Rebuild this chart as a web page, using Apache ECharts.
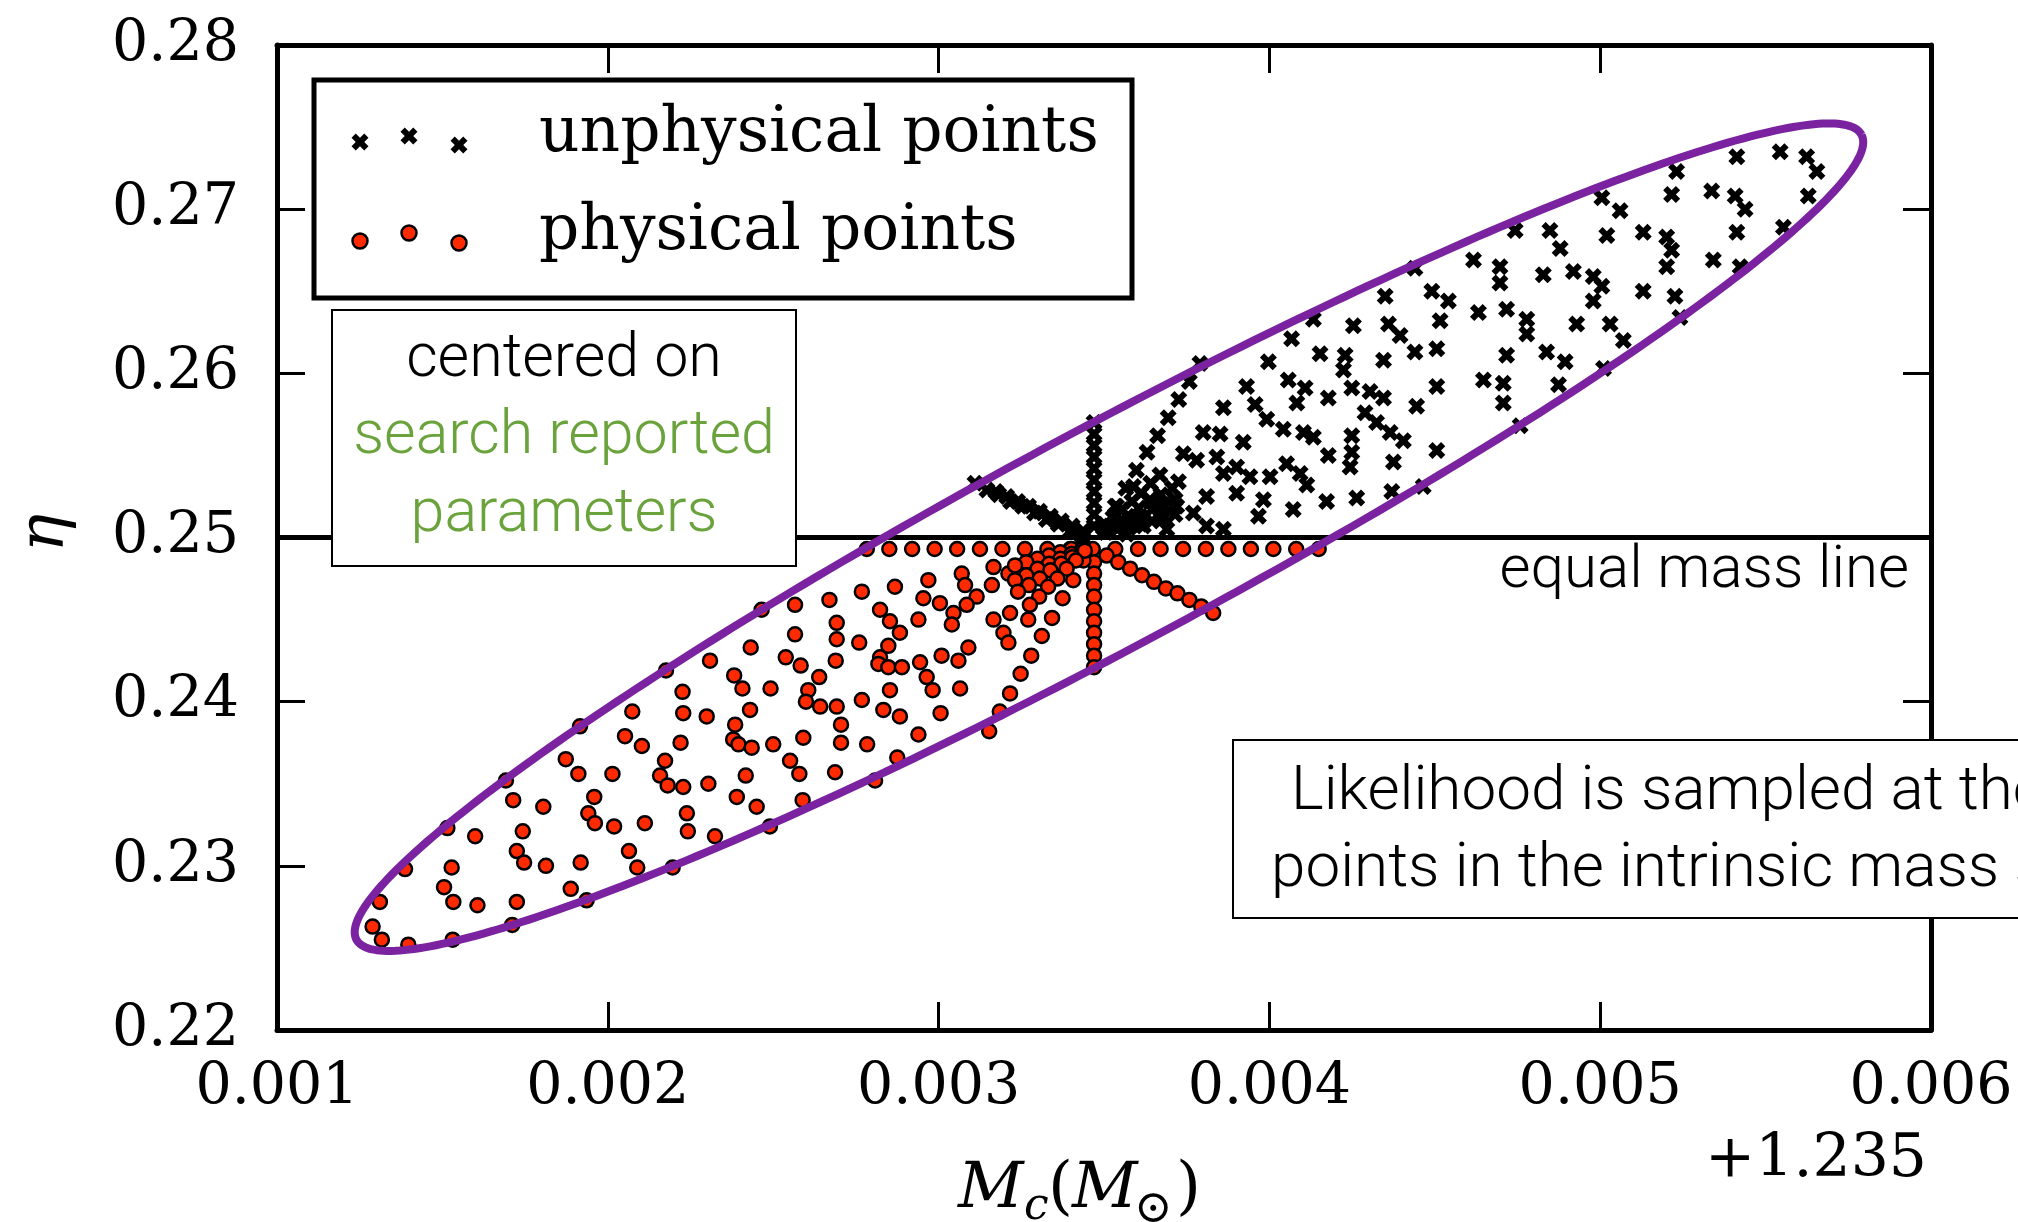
<!DOCTYPE html>
<html><head><meta charset="utf-8">
<script src="https://cdn.jsdelivr.net/npm/echarts@6/dist/echarts.min.js"></script>
<style>html,body{margin:0;padding:0;background:#fff}#c{width:2018px;height:1222px}</style>
</head><body><div id="c"></div><script>
// ---------------- DATA ----------------
const X_MIN = 0.001, X_MAX = 0.006, X_STEP = 0.001;   // Mc - 1.235
const Y_MIN = 0.22, Y_MAX = 0.28, Y_STEP = 0.01;      // eta
const X_OFFSET_LABEL = '+1.235';
const EQUAL_MASS_ETA = 0.25;

// physical points: scattered cloud
const physicalScatter = [
[0.002074,0.2394],[0.002228,0.2393],[0.002299,0.2391],[0.002385,0.2386],[0.002052,0.2379],[0.002103,0.2373],[0.002220,0.2375],[0.002379,0.2377],[0.002173,0.2364],[0.001873,0.2365],[0.001911,0.2356],[0.002014,0.2356],[0.002158,0.2355],[0.002181,0.2349],[0.002228,0.2348],[0.002304,0.2350],[0.002390,0.2342],[0.001692,0.2352],[0.001714,0.2340],[0.001805,0.2336],[0.001959,0.2342],[0.001941,0.2332],[0.001961,0.2326],[0.002019,0.2324],[0.002112,0.2326],[0.002239,0.2332],[0.002242,0.2321],[0.002324,0.2318],[0.001515,0.2323],[0.001599,0.2318],[0.001743,0.2321],[0.001725,0.2309],[0.001747,0.2302],[0.001813,0.2300],[0.001918,0.2302],[0.002064,0.2309],[0.002089,0.2299],[0.002196,0.2299],[0.001387,0.2298],[0.001528,0.2299],[0.001505,0.2287],[0.001533,0.2278],[0.001606,0.2276],[0.001725,0.2278],[0.001888,0.2286],[0.001936,0.2279],[0.001311,0.2278],[0.001289,0.2263],[0.001317,0.2255],[0.001397,0.2252],[0.001531,0.2255],[0.001711,0.2264],
[0.002969,0.2474],[0.002868,0.2470],[0.002768,0.2467],[0.002670,0.2462],[0.002566,0.2459],[0.002465,0.2456],[0.002954,0.2463],[0.003004,0.2460],[0.002823,0.2456],[0.002853,0.2449],[0.002939,0.2450],[0.003045,0.2454],[0.003040,0.2447],[0.002692,0.2448],[0.002692,0.2438],[0.002566,0.2441],[0.002760,0.2436],[0.002883,0.2442],[0.002848,0.2434],[0.002823,0.2427],[0.002818,0.2423],[0.002848,0.2421],[0.002889,0.2421],[0.002944,0.2424],[0.003009,0.2428],[0.003060,0.2425],[0.002964,0.2415],[0.002982,0.2407],[0.002432,0.2433],[0.002309,0.2425],[0.002176,0.2419],[0.002538,0.2427],[0.002583,0.2422],[0.002689,0.2425],[0.002639,0.2415],[0.002606,0.2407],[0.002599,0.2400],[0.002642,0.2397],[0.002692,0.2397],[0.002768,0.2401],[0.002853,0.2407],[0.002833,0.2395],[0.002883,0.2391],[0.003006,0.2393],[0.003065,0.2408],[0.002382,0.2416],[0.002407,0.2408],[0.002492,0.2408],[0.002226,0.2406],[0.002430,0.2395],[0.002395,0.2374],[0.002435,0.2372],[0.002500,0.2374],[0.002591,0.2378],[0.002705,0.2386],[0.002705,0.2375],[0.002784,0.2374],[0.002939,0.2380],[0.002875,0.2366],[0.001916,0.2385],[0.002417,0.2355],[0.002551,0.2364],[0.002579,0.2356],[0.002687,0.2357],[0.002808,0.2352],[0.002450,0.2336],[0.002589,0.2340],[0.002490,0.2324],
[0.003070,0.2478],[0.003166,0.2482],[0.003211,0.2478],[0.003080,0.2471],[0.003161,0.2471],[0.003115,0.2464],[0.003085,0.2459],[0.003166,0.2450],[0.003216,0.2454],[0.003271,0.2450],[0.003196,0.2442],[0.003211,0.2436],[0.003090,0.2433]
];
// physical points: row just below the equal-mass line
const physicalRowX = [0.002783,0.002851,0.002920,0.002988,0.003056,0.003125,0.003193,0.003261,0.003329,0.003398,0.003466,0.003534,0.003603,0.003671,0.003739,0.003808,0.003876,0.003944,0.004012,0.004081,0.004149];
const physicalRowEta = 0.2493;
// physical points: vertical ray below centre
const physicalColumnX = 0.00347;
const physicalColumnEta = [0.2485,0.2478,0.2471,0.2464,0.2456,0.2449,0.2442,0.2435,0.2428,0.2421];
// physical points: other rays from the centre
const physicalRays = [
[0.003508,0.2489],[0.003543,0.2485],[0.003579,0.2481],[0.003615,0.2477],[0.003651,0.2473],[0.003687,0.2469],[0.003722,0.2466],[0.003758,0.2462],[0.003794,0.2458],[0.003830,0.2454],
[0.003438,0.2486],[0.003407,0.2474],[0.003375,0.2463],[0.003343,0.2451],[0.003312,0.2440],[0.003280,0.2428],[0.003248,0.2417],[0.003216,0.2405],[0.003185,0.2394],[0.003153,0.2382],
[0.003436,0.2495],[0.003402,0.2493],[0.003368,0.2491],[0.003334,0.2489],[0.003299,0.2487],[0.003265,0.2485],[0.003231,0.2483],
[0.003436,0.2494],[0.003402,0.2490],[0.003368,0.2487],[0.003334,0.2484],[0.003299,0.2481],[0.003265,0.2477],[0.003231,0.2474],
[0.003437,0.2493],[0.003404,0.2488],[0.003371,0.2484],[0.003338,0.2480],[0.003306,0.2475],[0.003273,0.2471],[0.003240,0.2467],
[0.003442,0.2492],[0.003415,0.2486],[0.003387,0.2481],[0.003359,0.2475],[0.003331,0.2470],[0.003304,0.2464],[0.003276,0.2459]
];

// unphysical points: vertical ray above centre
const unphysicalColumnX = 0.00347;
const unphysicalColumnEta = [0.2507,0.2514,0.2521,0.2528,0.2535,0.2542,0.2549,0.2556,0.2563,0.2570];
// unphysical points: other rays from the centre
const unphysicalRays = [
[0.003434,0.2501],[0.003398,0.2504],[0.003362,0.2508],[0.003326,0.2511],[0.003290,0.2515],[0.003254,0.2519],[0.003218,0.2522],[0.003182,0.2526],[0.003146,0.2529],[0.003110,0.2533],
[0.003437,0.2504],[0.003404,0.2507],[0.003371,0.2510],[0.003338,0.2513],[0.003305,0.2516],[0.003272,0.2519],[0.003239,0.2522],[0.003206,0.2525],[0.003173,0.2528],
[0.003502,0.2508],[0.003534,0.2519],[0.003566,0.2530],[0.003598,0.2541],[0.003630,0.2552],[0.003662,0.2562],[0.003694,0.2573],[0.003726,0.2584],[0.003758,0.2595],[0.003790,0.2606],
[0.003505,0.2503],[0.003540,0.2505],[0.003575,0.2506],[0.003610,0.2508],[0.003645,0.2510],[0.003680,0.2512],[0.003715,0.2514],
[0.003505,0.2504],[0.003540,0.2507],[0.003575,0.2510],[0.003610,0.2513],[0.003645,0.2517],[0.003680,0.2520],[0.003715,0.2523],
[0.003504,0.2505],[0.003537,0.2509],[0.003571,0.2513],[0.003605,0.2518],[0.003639,0.2522],[0.003672,0.2526],[0.003706,0.2530],
[0.003498,0.2506],[0.003527,0.2512],[0.003555,0.2517],[0.003584,0.2522],[0.003612,0.2527],[0.003641,0.2533],[0.003669,0.2538]
];
// unphysical points: scattered cloud
const unphysicalScatter = [
[0.003538,0.2519],[0.003589,0.2531],[0.003639,0.2523],[0.003669,0.2513],[0.003619,0.2507],[0.003720,0.2519],[0.003770,0.2515],[0.003810,0.2507],[0.003861,0.2505],[0.003518,0.2507],[0.003569,0.2502],[0.003690,0.2505],
[0.004254,0.2629],[0.004360,0.2630],[0.004395,0.2623],[0.004440,0.2613],[0.004516,0.2632],[0.004133,0.2633],[0.004067,0.2621],[0.003997,0.2607],[0.004153,0.2612],[0.004229,0.2611],[0.004224,0.2602],[0.004345,0.2608],[0.004506,0.2615],[0.003931,0.2592],[0.004057,0.2596],[0.004108,0.2591],[0.004178,0.2585],[0.004249,0.2591],[0.004304,0.2589],[0.004345,0.2585],[0.004445,0.2580],[0.004506,0.2592],[0.003861,0.2579],[0.003957,0.2581],[0.004083,0.2582],[0.003992,0.2572],[0.004042,0.2566],[0.004103,0.2564],[0.004133,0.2561],[0.003800,0.2564],[0.003851,0.2563],[0.003921,0.2558],[0.004289,0.2576],[0.004324,0.2570],[0.004365,0.2564],[0.004405,0.2559],[0.004249,0.2562],[0.004249,0.2552],[0.004244,0.2543],[0.004178,0.2550],[0.004375,0.2546],[0.004506,0.2553],[0.003740,0.2551],[0.003725,0.2534],[0.003780,0.2547],[0.003841,0.2549],[0.003901,0.2543],[0.003861,0.2539],[0.003941,0.2537],[0.004002,0.2537],[0.004052,0.2545],[0.004093,0.2539],[0.004113,0.2532],[0.004173,0.2522],[0.004264,0.2524],[0.004370,0.2528],[0.004465,0.2531],[0.003810,0.2525],[0.003901,0.2527],[0.003982,0.2523],[0.004072,0.2517],[0.003967,0.2513],
[0.005005,0.2707],[0.005060,0.2699],[0.005216,0.2709],[0.004743,0.2687],[0.004848,0.2687],[0.004879,0.2676],[0.005020,0.2684],[0.005130,0.2686],[0.005201,0.2683],[0.005216,0.2675],[0.005201,0.2665],[0.004617,0.2669],[0.004697,0.2665],[0.004697,0.2655],[0.004828,0.2660],[0.004919,0.2662],[0.004979,0.2659],[0.005005,0.2653],[0.004979,0.2644],[0.005130,0.2650],[0.005226,0.2647],[0.005241,0.2634],[0.004440,0.2664],[0.004350,0.2647],[0.004491,0.2650],[0.004541,0.2644],[0.004632,0.2637],[0.004717,0.2639],[0.004778,0.2633],[0.004778,0.2624],[0.004929,0.2630],[0.005030,0.2630],[0.005070,0.2620],[0.004717,0.2611],[0.004838,0.2613],[0.004894,0.2607],[0.005010,0.2603],[0.004647,0.2596],[0.004707,0.2594],[0.004707,0.2582],[0.004874,0.2593],[0.004758,0.2568],
[0.005413,0.2732],[0.005544,0.2735],[0.005624,0.2732],[0.005655,0.2723],[0.005231,0.2723],[0.005337,0.2711],[0.005408,0.2708],[0.005438,0.2700],[0.005629,0.2708],[0.005413,0.2686],[0.005554,0.2689],[0.005342,0.2669],[0.005423,0.2665]
];

// ellipse annotation (data coordinates): centre, end of major axis, end of minor axis
const ELLIPSE_CENTER = [0.003515, 0.25002];
const ELLIPSE_TIP = [0.005790, 0.27453];
const ELLIPSE_COVERTEX = [0.003668, 0.24415];

// ---------------- BUILD ----------------
const physicalAll = physicalScatter
  .concat(physicalRowX.map(x => [x, physicalRowEta]))
  .concat(physicalColumnEta.map(y => [physicalColumnX, y]))
  .concat(physicalRays);
const unphysicalAll = unphysicalScatter
  .concat(unphysicalColumnEta.map(y => [unphysicalColumnX, y]))
  .concat(unphysicalRays);

const SERIF = "'DejaVu Serif', serif";
const SANS = "Roboto, 'Liberation Sans', sans-serif";
const X_SYMBOL = 'path://M0,25L25,0L50,25L75,0L100,25L75,50L100,75L75,100L50,75L25,100L0,75L25,50Z';
const RED = '#ff2a00';
const GREEN = '#6aa33c';
const PURPLE = '#7a22a0';

function xAxisCfg(pos, showLabel) {
  return {
    type: 'value', position: pos, min: X_MIN, max: X_MAX, interval: X_STEP,
    axisLine: { show: true, onZero: false, lineStyle: { color: '#000', width: 5 } },
    axisTick: { show: true, inside: true, length: 28, lineStyle: { color: '#000', width: 3 } },
    axisLabel: { show: showLabel, formatter: v => v.toFixed(3), fontFamily: SERIF, fontSize: 57, color: '#000', margin: 30 },
    splitLine: { show: false }
  };
}
function yAxisCfg(pos, showLabel) {
  return {
    type: 'value', position: pos, min: Y_MIN, max: Y_MAX, interval: Y_STEP,
    axisLine: { show: true, onZero: false, lineStyle: { color: '#000', width: 5 } },
    axisTick: { show: true, inside: true, length: 28, lineStyle: { color: '#000', width: 3 } },
    axisLabel: { show: showLabel, formatter: v => v.toFixed(2), fontFamily: SERIF, fontSize: 57, color: '#000', margin: 38 },
    splitLine: { show: false }
  };
}

const chart = echarts.init(document.getElementById('c'), null, { renderer: 'canvas' });
chart.setOption({
  animation: false,
  backgroundColor: '#fff',
  grid: { left: 277, right: 87, top: 45, bottom: 192, containLabel: false },
  xAxis: [xAxisCfg('bottom', true), xAxisCfg('top', false)],
  yAxis: [yAxisCfg('left', true), yAxisCfg('right', false)],
  series: [
    {
      type: 'scatter', name: 'physical points', xAxisIndex: 0, yAxisIndex: 0,
      data: physicalAll, symbol: 'circle', symbolSize: 14, z: 3,
      itemStyle: { color: RED, borderColor: '#000', borderWidth: 2.5, opacity: 1 },
      markLine: {
        silent: true, symbol: ['none', 'none'], label: { show: false },
        lineStyle: { color: '#000', width: 5, type: 'solid' },
        data: [{ yAxis: EQUAL_MASS_ETA }]
      }
    },
    {
      type: 'scatter', name: 'unphysical points', xAxisIndex: 0, yAxisIndex: 0,
      data: unphysicalAll, symbol: X_SYMBOL, symbolSize: 17, z: 4,
      itemStyle: { color: '#000', opacity: 1 }
    }
  ]
});

// ellipse through the library's coordinate conversion
const toPx = p => chart.convertToPixel({ xAxisIndex: 0, yAxisIndex: 0 }, p);
const cP = toPx(ELLIPSE_CENTER), tP = toPx(ELLIPSE_TIP), vP = toPx(ELLIPSE_COVERTEX);
const ellPts = [];
for (let i = 0; i <= 360; i++) {
  const t = i / 360 * 2 * Math.PI;
  ellPts.push([
    cP[0] + (tP[0] - cP[0]) * Math.cos(t) + (vP[0] - cP[0]) * Math.sin(t),
    cP[1] + (tP[1] - cP[1]) * Math.cos(t) + (vP[1] - cP[1]) * Math.sin(t)
  ]);
}

function txt(text, x, y, size, opts) {
  opts = opts || {};
  return {
    type: 'text', z: opts.z || 120, rotation: opts.rotation || 0, x: x, y: y,
    style: {
      text: text, x: 0, y: 0,
      fontFamily: opts.family || SANS, fontSize: size, fontWeight: opts.weight || 'normal',
      fontStyle: opts.style || 'normal', fill: opts.color || '#000',
      align: opts.align || 'left', textAlign: opts.align || 'left',
      verticalAlign: 'middle', textVerticalAlign: 'middle'
    }
  };
}
function xMark(cx, cy, s) {
  const u = [[0,.25],[.25,0],[.5,.25],[.75,0],[1,.25],[.75,.5],[1,.75],[.75,1],[.5,.75],[.25,1],[0,.75],[.25,.5]];
  return { type: 'polygon', z: 121, shape: { points: u.map(p => [cx - s / 2 + p[0] * s, cy - s / 2 + p[1] * s]) }, style: { fill: '#000' } };
}
function dot(cx, cy) {
  return { type: 'circle', z: 121, shape: { cx: cx, cy: cy, r: 7.5 }, style: { fill: RED, stroke: '#000', lineWidth: 2.5 } };
}

const graphics = [
  { type: 'polyline', z: 50, shape: { points: ellPts }, style: { stroke: PURPLE, lineWidth: 8, fill: null, lineJoin: 'round' }, silent: true },
  // legend
  { type: 'rect', z: 110, shape: { x: 314, y: 80, width: 818, height: 218 }, style: { fill: '#fff', stroke: '#000', lineWidth: 5 } },
  xMark(360, 142, 17), xMark(409, 136, 17), xMark(459, 145, 17),
  dot(360, 241), dot(409, 233), dot(459, 243),
  txt('unphysical points', 539, 135, 63, { family: SERIF }),
  txt('physical points', 539, 233, 63, { family: SERIF }),
  // annotation box 1
  { type: 'rect', z: 110, shape: { x: 332, y: 310, width: 464, height: 256 }, style: { fill: '#fff', stroke: '#000', lineWidth: 2 } },
  txt('centered on', 564, 361, 61, { align: 'center', weight: 300 }),
  txt('search reported', 564, 438, 61, { align: 'center', weight: 300, color: GREEN }),
  txt('parameters', 564, 516, 61, { align: 'center', weight: 300, color: GREEN }),
  // equal mass line label
  txt('equal mass line', 1909, 572, 60, { align: 'right', weight: 300 }),
  // annotation box 2 (runs off the right edge, as in the original)
  { type: 'rect', z: 110, shape: { x: 1233, y: 740, width: 900, height: 178 }, style: { fill: '#fff', stroke: '#000', lineWidth: 2 } },
  txt('Likelihood is sampled at these', 1291, 793, 62, { weight: 300 }),
  txt('points in the intrinsic mass space', 1271, 870, 62, { weight: 300 }),
  // axis offset and names
  txt(X_OFFSET_LABEL, 1705, 1160, 60, { family: SERIF }),
  txt('η', 46, 533, 64, { family: SERIF, style: 'italic', align: 'center', rotation: Math.PI / 2 }),
  txt('M', 958, 1190, 64, { family: SERIF, style: 'italic' }),
  txt('c', 1024, 1208, 44, { family: SERIF, style: 'italic' }),
  txt('(', 1048, 1190, 64, { family: SERIF }),
  txt('M', 1072, 1190, 64, { family: SERIF, style: 'italic' }),
  txt('⊙', 1134, 1210, 46, { family: SERIF }),
  txt(')', 1176, 1190, 64, { family: SERIF })
];
chart.setOption({ graphic: graphics });
</script></body></html>
